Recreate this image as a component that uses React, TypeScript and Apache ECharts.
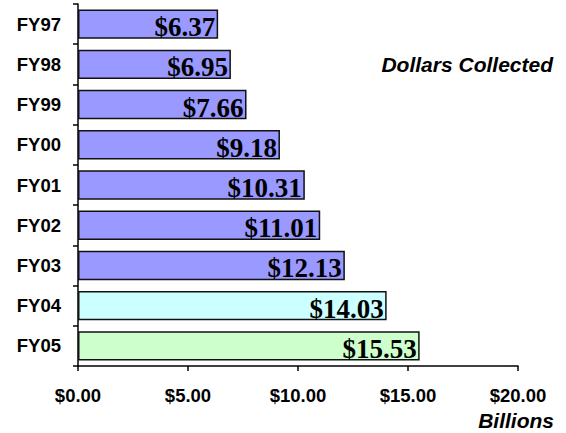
import React, { useEffect, useRef } from "react";
import * as echarts from "echarts";

const categories = ["FY97", "FY98", "FY99", "FY00", "FY01", "FY02", "FY03", "FY04", "FY05"];
const values = [6.37, 6.95, 7.66, 9.18, 10.31, 11.01, 12.13, 14.03, 15.53];
const barColors = ["#9999FF", "#9999FF", "#9999FF", "#9999FF", "#9999FF", "#9999FF", "#9999FF", "#CCFFFF", "#CCFFCC"];

export default function App() {
  const ref = useRef<HTMLDivElement>(null);
  useEffect(() => {
    const chart = echarts.init(ref.current!, null, { renderer: "svg" });
    chart.setOption({
      animation: false,
      grid: { left: 78, right: 48, top: 4, bottom: 67 },
      xAxis: {
        type: "value",
        min: 0,
        max: 20,
        interval: 5,
        axisLine: { show: true, lineStyle: { color: "#000", width: 1.5 } },
        axisTick: { show: true, length: 5, lineStyle: { color: "#000", width: 1.5 } },
        splitLine: { show: false },
        axisLabel: {
          margin: 20,
          color: "#000",
          fontFamily: "Liberation Sans, Arial, sans-serif",
          fontWeight: "bold",
          fontSize: 18.5,
          formatter: (v: number) => "$" + v.toFixed(2),
        },
      },
      yAxis: {
        type: "category",
        data: categories,
        inverse: true,
        axisLine: { show: true, lineStyle: { color: "#000", width: 1.5 } },
        axisTick: { show: true, length: 5, lineStyle: { color: "#000", width: 1.5 } },
        axisLabel: {
          margin: 17,
          color: "#000",
          fontFamily: "Liberation Sans, Arial, sans-serif",
          fontWeight: "bold",
          fontSize: 18.5,
        },
      },
      series: [
        {
          type: "bar",
          data: values.map((v, i) => ({
            value: v,
            itemStyle: { color: barColors[i], borderColor: "#111", borderWidth: 1.5 },
          })),
          barCategoryGap: "27%",
          label: {
            show: true,
            position: "insideRight",
            distance: 3,
            offset: [0, 3],
            color: "#000",
            fontFamily: "Liberation Serif, Times New Roman, serif",
            fontWeight: "bold",
            fontSize: 27,
            formatter: (p: any) => "$" + p.value.toFixed(2),
          },
        },
      ],
      graphic: [
        {
          type: "text",
          right: 13,
          top: 54,
          style: {
            text: "Dollars Collected",
            fill: "#000",
            font: "italic bold 21px 'Liberation Sans', Arial, sans-serif",
          },
        },
        {
          type: "text",
          right: 12,
          top: 410,
          style: {
            text: "Billions",
            fill: "#000",
            font: "italic bold 21px 'Liberation Sans', Arial, sans-serif",
          },
        },
      ],
    });
    return () => chart.dispose();
  }, []);
  return <div ref={ref} style={{ width: 566, height: 433, position: "absolute", left: 0, top: 0 }} />;
}
